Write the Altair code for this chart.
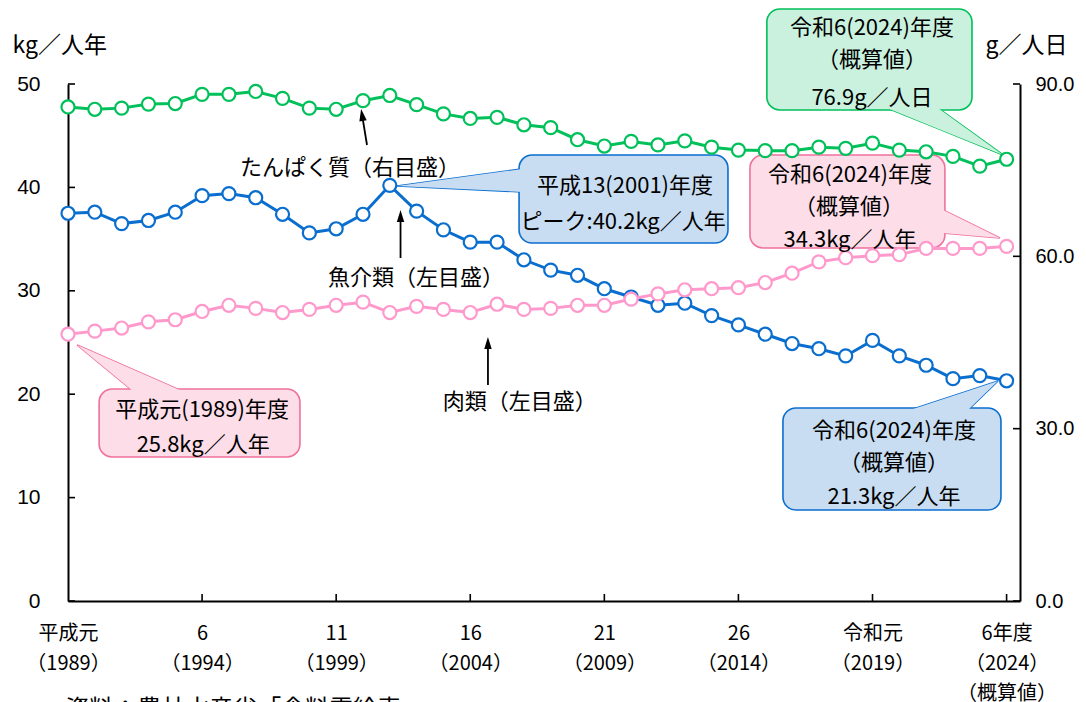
import math
import altair as alt
import pandas as pd

# ---------------- data ----------------
years = list(range(1989, 2025))
fish_kg = [37.5, 37.6, 36.5, 36.8, 37.6, 39.2, 39.4, 39.0, 37.4, 35.6, 36.0, 37.4,
           40.2, 37.7, 35.9, 34.7, 34.7, 33.0, 32.0, 31.5, 30.2, 29.4, 28.6, 28.8,
           27.6, 26.7, 25.8, 24.9, 24.4, 23.7, 25.2, 23.7, 22.8, 21.5, 21.8, 21.3]
meat_kg = [25.8, 26.1, 26.4, 27.0, 27.2, 28.0, 28.6, 28.3, 27.9, 28.2, 28.6, 28.9,
           27.9, 28.5, 28.2, 27.9, 28.7, 28.2, 28.3, 28.6, 28.6, 29.2, 29.7, 30.1,
           30.2, 30.3, 30.8, 31.7, 32.8, 33.2, 33.4, 33.5, 34.1, 34.1, 34.1, 34.3]
protein_g = [86.0, 85.6, 85.8, 86.5, 86.6, 88.2, 88.2, 88.7, 87.5, 85.8, 85.6, 87.1,
             88.0, 86.4, 84.8, 84.0, 84.2, 82.9, 82.4, 80.3, 79.2, 80.0, 79.4, 80.1,
             79.0, 78.5, 78.4, 78.4, 79.0, 78.8, 79.7, 78.5, 78.2, 77.4, 75.7, 76.9]

tick_years = [1989, 1994, 1999, 2004, 2009, 2014, 2019, 2024]
tick_era = ["平成元", "6", "11", "16", "21", "26", "令和元", "6年度"]
tick_ad = ["（1989）", "（1994）", "（1999）", "（2004）", "（2009）", "（2014）", "（2019）", "（2024）"]
tick_extra = ["", "", "", "", "", "", "", "（概算値）"]
left_ticks = [0, 10, 20, 30, 40, 50]
right_ticks = [0, 30, 60, 90]

# series labels with arrows (kg units)
label_x = [1999.52, 2001.98, 2005.85]
label_y = [41.88, 31.24, 19.25]
label_text = ["たんぱく質（右目盛）", "魚介類（左目盛）", "肉類（左目盛）"]
arrow_tail = [(2000.15, 44.10), (2001.40, 33.17), (2004.66, 20.89)]
arrow_tip = [(1999.93, 47.58), (2001.40, 37.81), (2004.66, 25.53)]

# colours
BLUE, BLUE_FILL = "#0A6ECF", "#C8DDF1"
PINK, PINK_LINE, PINK_FILL = "#F0709E", "#FF99CC", "#FDDDE8"
GREEN, GREEN_FILL = "#00C05A", "#C9F1DD"

# callouts (kg units)
callouts_kg = [
    dict(id="peak", x0=2005.82, x1=2013.61, y0=34.62, y1=43.13,
         tip=(2001.27, 40.14), b1=(2005.93, 41.78), b2=(2005.93, 39.56), fill=BLUE_FILL, stroke=BLUE),
    dict(id="meat24", x0=2014.43, x1=2021.70, y0=34.14, y1=43.13,
         tip=(2023.75, 35.11), b1=(2021.63, 37.81), b2=(2021.63, 35.59), fill=PINK_FILL, stroke=PINK),
    dict(id="meat89", x0=1990.16, x1=1997.65, y0=13.93, y1=20.50,
         tip=(1989.34, 24.76), b1=(1991.42, 20.31), b2=(1993.25, 20.31), fill=PINK_FILL, stroke=PINK),
    dict(id="fish24", x0=2015.66, x1=2023.79, y0=8.80, y1=18.67,
         tip=(2023.68, 21.28), b1=(2020.40, 18.47), b2=(2022.56, 18.47), fill=BLUE_FILL, stroke=BLUE),
]
callout_text_x = [2009.77, 2009.70, 2018.16, 2018.12, 2018.16, 1994.00, 1994.04, 2019.80, 2019.80, 2019.80]
callout_text_y = [40.14, 36.65, 41.20, 38.10, 34.91, 18.47, 15.09, 16.44, 13.35, 10.06]
callout_text = ["平成13(2001)年度", "ピーク:40.2kg／人年",
                "令和6(2024)年度", "（概算値）", "34.3kg／人年",
                "平成元(1989)年度", "25.8kg／人年",
                "令和6(2024)年度", "（概算値）", "21.3kg／人年"]

# callout (g units)
callouts_g = [
    dict(id="prot24", x0=2015.06, x1=2022.71, y0=85.48, y1=103.06,
         tip=(2023.87, 77.64), b1=(2019.54, 85.82), b2=(2021.44, 85.82), fill=GREEN_FILL, stroke=GREEN),
]
green_text_x = [2018.98, 2018.98, 2018.98]
green_text_y = [99.75, 94.18, 87.55]
green_text = ["令和6(2024)年度", "（概算値）", "76.9g／人日"]

source_note = "資料：農林水産省「食料需給表」"

# ---------------- layout ----------------
JP = "Noto Sans CJK JP"
NUM = "Liberation Sans"
W, H = 952, 517
X_DOMAIN = [1989, 2024.5]
KG_DOMAIN = [0, 50]
G_DOMAIN = [0, 90]
PX_YEAR = W / (X_DOMAIN[1] - X_DOMAIN[0])
PX_KG = H / (KG_DOMAIN[1] - KG_DOMAIN[0])

xs = alt.Scale(domain=X_DOMAIN, nice=False, zero=False)
kgs = alt.Scale(domain=KG_DOMAIN, nice=False)
gs = alt.Scale(domain=G_DOMAIN, nice=False)

# x-axis multi-line labels
parts = []
for yv, a, b, c in zip(tick_years, tick_era, tick_ad, tick_extra):
    lines = [a, b] + ([c] if c else [])
    arr = "[" + ",".join("'" + s + "'" for s in lines) + "]"
    parts.append(f"datum.value == {yv} ? {arr} : ")
label_expr = "".join(parts) + "''"

x_axis = alt.Axis(values=tick_years, labelExpr=label_expr, ticks=False, tickSize=0, grid=False,
                  domainColor="black", domainWidth=2, labelFont=JP, labelFontSize=20,
                  labelColor="black", labelPadding=22, labelLineHeight=30, labelAngle=0,
                  labelFlush=False, labelOverlap=False, labelBaseline="top", title=None)
left_axis = alt.Axis(values=left_ticks, orient="left", ticks=False, tickSize=0, grid=False,
                     domainColor="black", domainWidth=2, labelFont=NUM, labelFontSize=21,
                     labelColor="black", labelPadding=28, title="kg／人年", titleAngle=0,
                     titleX=-56, titleY=-39, titleAlign="left", titleBaseline="middle",
                     titleFont=JP, titleFontSize=23, titleFontWeight="normal", titleColor="black")
right_axis = alt.Axis(values=right_ticks, orient="right", format=".1f", ticks=False, tickSize=0,
                      grid=False, domainColor="black", domainWidth=2, labelFont=NUM, labelFontSize=20,
                      labelColor="black", labelPadding=15, labelAlign="left", title="g／人日",
                      titleAngle=0, titleX=-35, titleY=-39, titleAlign="left", titleBaseline="middle",
                      titleFont=JP, titleFontSize=23, titleFontWeight="normal", titleColor="black")


def X(f):
    return alt.X(f"{f}:Q", scale=xs, axis=x_axis)


def YK(f):
    return alt.Y(f"{f}:Q", scale=kgs, axis=left_axis, stack=None)


def YG(f):
    return alt.Y(f"{f}:Q", scale=gs, axis=right_axis, stack=None)


def tri_rows(c):
    pts = sorted([c["tip"], c["b1"], c["b2"]], key=lambda p: p[0])
    (x0, y0), (x1, y1), (x2, y2) = pts
    eps = 0.002
    if x1 - x0 < eps:
        x1 = x0 + eps
    if x2 - x1 < eps:
        x2 = x1 + eps
    ym = y0 + (y2 - y0) * (x1 - x0) / (x2 - x0)
    base = dict(id=c["id"], fill=c["fill"], stroke=c["stroke"])
    return [dict(base, x=x0, ya=y0, yb=y0), dict(base, x=x1, ya=y1, yb=ym), dict(base, x=x2, ya=y2, yb=y2)]


def callout_layers(callouts, Y):
    tri = pd.DataFrame([r for c in callouts for r in tri_rows(c)])
    boxes = pd.DataFrame([{k: c[k] for k in ("id", "x0", "x1", "y0", "y1", "fill", "stroke")} for c in callouts])
    ptr_stroke = alt.Chart(tri).mark_area(strokeWidth=1.6, opacity=1, strokeJoin="miter").encode(
        x=X("x"), y=Y("ya"), y2=alt.Y2("yb:Q"),
        detail="id:N", fill=alt.Fill("fill:N", scale=None), stroke=alt.Stroke("stroke:N", scale=None))
    box = alt.Chart(boxes).mark_rect(cornerRadius=13, strokeWidth=1.6, opacity=1).encode(
        x=X("x0"), x2=alt.X2("x1:Q"), y=Y("y0"), y2=alt.Y2("y1:Q"),
        fill=alt.Fill("fill:N", scale=None), stroke=alt.Stroke("stroke:N", scale=None))
    ptr_fill = alt.Chart(tri).mark_area(opacity=1).encode(
        x=X("x"), y=Y("ya"), y2=alt.Y2("yb:Q"),
        detail="id:N", fill=alt.Fill("fill:N", scale=None))
    return [ptr_stroke, box, ptr_fill]


def series_layers(vals, color, Y):
    df = pd.DataFrame({"year": years, "v": vals})
    line = alt.Chart(df).mark_line(color=color, strokeWidth=3).encode(x=X("year"), y=Y("v"))
    pts = alt.Chart(df).mark_point(shape="circle", filled=True, fill="white", stroke=color,
                                   strokeWidth=2.2, size=170, opacity=1).encode(x=X("year"), y=Y("v"))
    return [line, pts]


# manual inward ticks
lt = pd.DataFrame({"x": [X_DOMAIN[0]] * len(left_ticks), "v": left_ticks})
left_tick_layer = alt.Chart(lt).mark_point(shape="M0,0L1,0", size=196, stroke="black", strokeWidth=1.6,
                                           filled=False, opacity=1).encode(x=X("x"), y=YK("v"))
xt = pd.DataFrame({"x": tick_years[1:], "v": [0] * (len(tick_years) - 1)})
x_tick_layer = alt.Chart(xt).mark_point(shape="M0,0L0,-1", size=196, stroke="black", strokeWidth=1.6,
                                        filled=False, opacity=1).encode(x=X("x"), y=YK("v"))
rt = pd.DataFrame({"x": [X_DOMAIN[1]] * len(right_ticks), "v": right_ticks})
right_tick_layer = alt.Chart(rt).mark_point(shape="M0,0L-1,0", size=196, stroke="black", strokeWidth=1.6,
                                            filled=False, opacity=1).encode(x=X("x"), y=YG("v"))

# arrows
rules, heads = [], []
for tail, tip in zip(arrow_tail, arrow_tip):
    dx = (tip[0] - tail[0]) * PX_YEAR
    dy = -(tip[1] - tail[1]) * PX_KG
    L = math.hypot(dx, dy)
    ux, uy = dx / L, dy / L
    cx = tip[0] - 6 * ux / PX_YEAR
    cy = tip[1] + 6 * uy / PX_KG
    ang = math.degrees(math.atan2(ux, -uy)) % 360
    rules.append(dict(x=tail[0], y=tail[1], x2=cx, y2=cy))
    heads.append(dict(x=cx, y=cy, a=ang))
rule_layer = alt.Chart(pd.DataFrame(rules)).mark_rule(color="black", strokeWidth=1.8).encode(
    x=X("x"), y=YK("y"), x2=alt.X2("x2:Q"), y2=alt.Y2("y2:Q"))
head_layer = alt.Chart(pd.DataFrame(heads)).mark_point(shape="M0,-1L0.62,1L-0.62,1Z", size=144, filled=True,
                                                       fill="black", strokeWidth=0, opacity=1).encode(
    x=X("x"), y=YK("y"), angle=alt.Angle("a:Q", scale=None))

labels = alt.Chart(pd.DataFrame({"x": label_x, "y": label_y, "t": label_text})).mark_text(
    font=JP, fontSize=22, color="black", align="center", baseline="middle").encode(
    x=X("x"), y=YK("y"), text="t:N")
ctext = alt.Chart(pd.DataFrame({"x": callout_text_x, "y": callout_text_y, "t": callout_text})).mark_text(
    font=JP, fontSize=22, color="black", align="center", baseline="middle").encode(
    x=X("x"), y=YK("y"), text="t:N")
gtext = alt.Chart(pd.DataFrame({"x": green_text_x, "y": green_text_y, "t": green_text})).mark_text(
    font=JP, fontSize=22, color="black", align="center", baseline="middle").encode(
    x=X("x"), y=YG("y"), text="t:N")
note = alt.Chart(pd.DataFrame({"x": [1988.9], "y": [-10.5], "t": [source_note]})).mark_text(
    font=JP, fontSize=24, color="black", align="left", baseline="middle").encode(
    x=X("x"), y=YK("y"), text="t:N")

left_group = alt.layer(
    *callout_layers(callouts_kg, YK),
    *series_layers(fish_kg, BLUE, YK),
    *series_layers(meat_kg, PINK_LINE, YK),
    rule_layer, head_layer, labels, ctext, note,
    left_tick_layer, x_tick_layer,
)
right_group = alt.layer(
    *callout_layers(callouts_g, YG),
    *series_layers(protein_g, GREEN, YG),
    gtext, right_tick_layer,
)

chart = alt.layer(left_group, right_group).resolve_scale(y="independent").resolve_axis(
    y="independent").properties(
    width=W, height=H,
    autosize=alt.AutoSizeParams(type="none"),
    padding={"left": 60, "top": 76, "right": 58, "bottom": 110},
    background="white",
).configure_view(stroke=None)

chart.save("out.html", embed_options={"renderer": "svg", "actions": False})
